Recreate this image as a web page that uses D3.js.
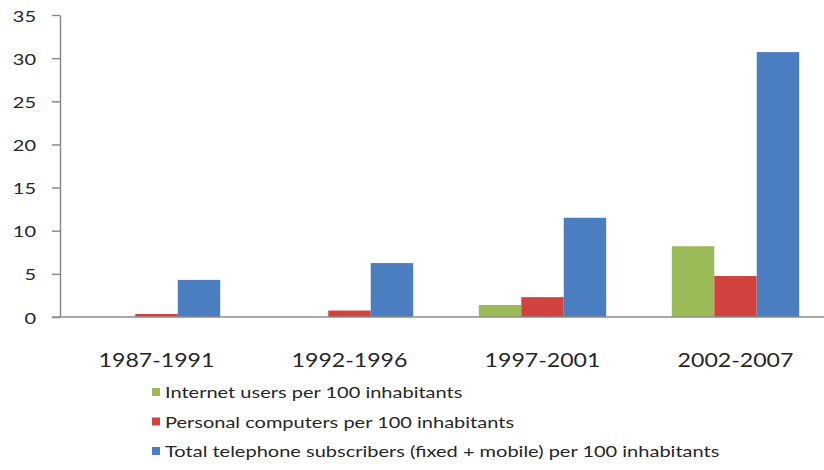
<!DOCTYPE html>
<html>
<head>
<meta charset="utf-8">
<script src="https://cdn.jsdelivr.net/npm/d3@7"></script>
<style>
  html, body { margin: 0; padding: 0; background: #fff; }
  svg { display: block; }
  text { font-family: Lato, "Open Sans", sans-serif; fill: #262626; }
</style>
</head>
<body>
<svg id="chart" width="824" height="470"></svg>
<script>
const categories = ["1987-1991", "1992-1996", "1997-2001", "2002-2007"];
const seriesNames = [
  "Internet users per 100 inhabitants",
  "Personal computers per 100 inhabitants",
  "Total telephone subscribers (fixed + mobile) per 100 inhabitants"
];
const internetUsers = [0, 0, 1.4, 8.2];
const personalComputers = [0.35, 0.75, 2.3, 4.75];
const telephoneSubscribers = [4.3, 6.25, 11.5, 30.7];
const yTicks = [0, 5, 10, 15, 20, 25, 30, 35];
const colors = ["#9bbb59", "#d2433f", "#4a7ec0"];

const series = [internetUsers, personalComputers, telephoneSubscribers];

const SX = 1.25; // the original's text is horizontally stretched
const svg = d3.select("#chart");
const x0 = 60, x1 = 832, yTop = 15, yBottom = 317;

const y = d3.scaleLinear().domain([0, 35]).range([yBottom, yTop]);
const xBand = d3.scaleBand().domain(categories).range([x0, x1])
  .paddingInner(0.34).paddingOuter(0.17);
const xSub = d3.scaleBand().domain(d3.range(series.length))
  .range([0, xBand.bandwidth()]);

// bars
const groups = svg.append("g").selectAll("g")
  .data(categories).join("g")
  .attr("transform", d => `translate(${xBand(d)},0)`);
groups.selectAll("rect")
  .data((c, i) => series.map((s, k) => ({ k, v: s[i] })))
  .join("rect")
  .attr("x", d => xSub(d.k))
  .attr("width", xSub.bandwidth())
  .attr("y", d => y(d.v))
  .attr("height", d => yBottom - y(d.v))
  .attr("fill", d => colors[d.k]);

// y axis
const tickLen = 8;
const yAxis = svg.append("g")
  .attr("transform", `translate(${x0},0)`)
  .call(d3.axisLeft(y).tickValues(yTicks).tickSize(tickLen).tickPadding(0).tickSizeOuter(0));
yAxis.select(".domain").attr("stroke", "#8c8c8c").attr("stroke-width", 1.5);
yAxis.selectAll(".tick line").attr("stroke", "#8c8c8c").attr("stroke-width", 1.5);
yAxis.selectAll(".tick text")
  .style("font-size", "16px")
  .attr("fill", "#262626")
  .attr("x", -24 / SX)
  .attr("dy", "0.38em")
  .attr("transform", `scale(${SX},1)`);

// baseline
svg.append("line")
  .attr("x1", x0 - tickLen).attr("x2", 824)
  .attr("y1", y(0)).attr("y2", y(0))
  .attr("stroke", "#8c8c8c").attr("stroke-width", 1.5);

// category labels
svg.append("g").selectAll("text")
  .data(categories).join("text")
  .attr("transform", d => `translate(${xBand(d) + xBand.bandwidth() / 2},367) scale(${SX},1)`)
  .attr("text-anchor", "middle")
  .style("font-size", "18.5px")
  .text(d => d);

// legend
const legend = svg.append("g").selectAll("g")
  .data(seriesNames).join("g")
  .attr("transform", (d, i) => `translate(152,${398 + i * 29.5})`);
legend.append("rect")
  .attr("x", 0).attr("y", -10).attr("width", 8).attr("height", 8)
  .attr("fill", (d, i) => colors[i]);
legend.append("text")
  .attr("transform", `translate(13,0) scale(${SX},1)`)
  .style("font-size", "16px")
  .text(d => d);
</script>
</body>
</html>
